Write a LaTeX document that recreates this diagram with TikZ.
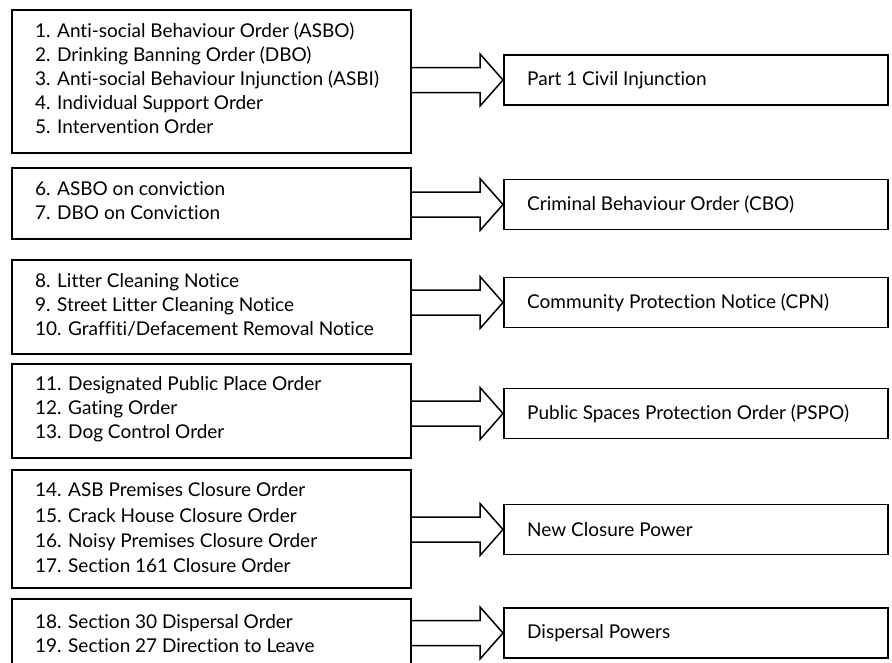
\documentclass[tikz,border=0pt]{standalone}
\usepackage{fontspec}
\setmainfont{Lato}[Ligatures=NoCommon]
\usetikzlibrary{calc}
\tikzset{
  lbox/.style={draw, line width=1.5pt, rectangle, inner sep=0pt, anchor=north west},
  rbox/.style={draw, line width=1.5pt, rectangle, inner sep=0pt, anchor=west, minimum width=384pt, minimum height=50pt},
  ltext/.style={anchor=west, inner sep=0pt, align=left, font=\fontsize{19}{24}\selectfont},
  rtext/.style={anchor=west, inner sep=0pt, font=\fontsize{19}{24}\selectfont},
  barrow/.style={draw, line width=1.5pt, line join=miter}
}
\newcommand{\blockarrow}[2]{%
  \draw[barrow] ($(#1.east |- #2.west)+(0,-12.5)$) -- ($(#2.west)+(-23,-12.5)$) -- ($(#2.west)+(-23,-26)$) -- (#2.west) -- ($(#2.west)+(-23,26)$) -- ($(#2.west)+(-23,12.5)$) -- ($(#1.east |- #2.west)+(0,12.5)$);%
}
\begin{document}
\begin{tikzpicture}[x=1pt,y=-1pt]
\useasboundingbox (0,0) rectangle (892,662);
% left boxes
\node[lbox, minimum width=399pt, minimum height=143pt] (L1) at (11,9) {};
\node[lbox, minimum width=399pt, minimum height=71pt] (L2) at (11,167) {};
\node[lbox, minimum width=399pt, minimum height=94pt] (L3) at (11,259) {};
\node[lbox, minimum width=399pt, minimum height=94pt] (L4) at (11,363) {};
\node[lbox, minimum width=399pt, minimum height=118pt] (L5) at (11,469) {};
\node[lbox, minimum width=399pt, minimum height=80pt] (L6) at (11,598) {};
% left texts
\node[ltext] (T1) at (35,78) {1. Anti-social Behaviour Order (ASBO)\\2. Drinking Banning Order (DBO)\\3. Anti-social Behaviour Injunction (ASBI)\\4. Individual Support Order\\5. Intervention Order};
\node[ltext] (T2) at (35,201) {6. ASBO on conviction\\7. DBO on Conviction};
\node[ltext] (T3) at (35,305) {8. Litter Cleaning Notice\\9. Street Litter Cleaning Notice\\10. Graffiti/Defacement Removal Notice};
\node[ltext] (T4) at (35,409) {11. Designated Public Place Order\\12. Gating Order\\13. Dog Control Order};
\node[ltext, font=\fontsize{19}{25.3}\selectfont] (T5) at (35,528) {14. ASB Premises Closure Order\\15. Crack House Closure Order\\16. Noisy Premises Closure Order\\17. Section 161 Closure Order};
\node[ltext] (T6) at (35,634) {18. Section 30 Dispersal Order\\19. Section 27 Direction to Leave};
% right boxes
\node[rbox] (R1) at (503,80) {};
\node[rbox] (R2) at (503,204.5) {};
\node[rbox] (R3) at (503,302.5) {};
\node[rbox] (R4) at (503,413.5) {};
\node[rbox] (R5) at (503,529.5) {};
\node[rbox] (R6) at (503,633) {};
\node[rtext] (S1) at (527,80) {Part 1 Civil Injunction};
\node[rtext] (S2) at (527,204.5) {Criminal Behaviour Order (CBO)};
\node[rtext] (S3) at (527,302.5) {Community Protection Notice (CPN)};
\node[rtext] (S4) at (527,413.5) {Public Spaces Protection Order (PSPO)};
\node[rtext] (S5) at (527,529.5) {New Closure Power};
\node[rtext] (S6) at (527,633) {Dispersal Powers};
% block arrows
\blockarrow{L1}{R1}
\blockarrow{L2}{R2}
\blockarrow{L3}{R3}
\blockarrow{L4}{R4}
\blockarrow{L5}{R5}
\blockarrow{L6}{R6}
\end{tikzpicture}
\end{document}
